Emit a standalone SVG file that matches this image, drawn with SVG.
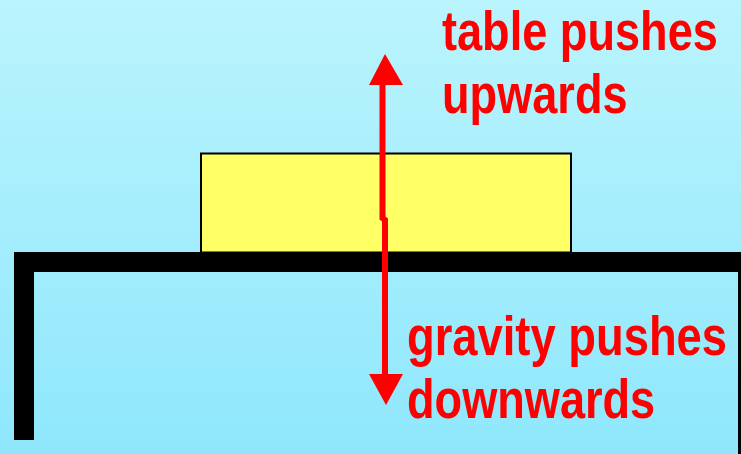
<svg xmlns="http://www.w3.org/2000/svg" width="741" height="454" viewBox="0 0 741 454">
<defs>
<linearGradient id="bg" x1="0" y1="0" x2="0" y2="1">
<stop offset="0" stop-color="#BAF4FD"/>
<stop offset="1" stop-color="#8FE7FC"/>
</linearGradient>
<style>
.lbl{font-family:"Liberation Sans",Arial,sans-serif;font-weight:bold;font-size:56px;fill:#FF0000}
.shaft{stroke:#FF0000;stroke-width:6;fill:none}
.head{fill:#FF0000}
</style>
</defs>
<rect width="741" height="454" fill="url(#bg)"/>
<g id="table">
<rect x="14" y="252" width="727" height="20" fill="#000"/>
<rect x="14" y="252" width="20" height="188" fill="#000"/>
<rect x="738" y="252" width="3" height="202" fill="#000"/>
</g>
<g id="block">
<rect x="201" y="153.5" width="370" height="99" fill="#FFFF66" stroke="#000" stroke-width="2"/>
</g>
<g id="connectors">
<polyline class="shaft" points="382.5,84 382.5,218 385,220 385,252"/>
<polygon class="head" points="385,54 369,85 403,85"/>
<line class="shaft" x1="385" y1="252" x2="385" y2="376"/>
<polygon class="head" points="369,374 403,374 386,405"/>
</g>
<g id="label-up">
<text class="lbl" transform="translate(442,50) scale(0.806,1)">table pushes</text>
<text class="lbl" transform="translate(442,113) scale(0.806,1)">upwards</text>
</g>
<g id="label-down">
<text class="lbl" transform="translate(407,355) scale(0.81,1)">gravity pushes</text>
<text class="lbl" transform="translate(407,418) scale(0.806,1)">downwards</text>
</g>
</svg>
